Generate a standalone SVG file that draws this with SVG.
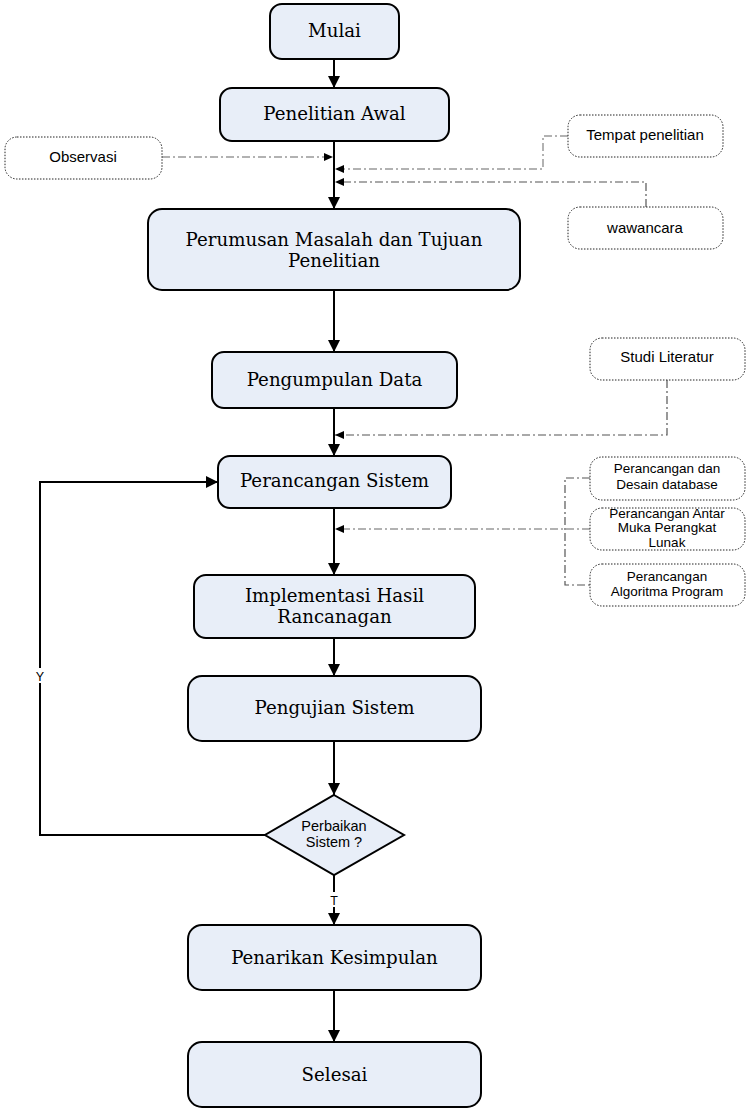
<svg xmlns="http://www.w3.org/2000/svg" width="750" height="1113" viewBox="0 0 750 1113">
<style>
.box{fill:#E8EEF8;stroke:#000;stroke-width:2}
.side{fill:#fff;stroke:#222;stroke-width:1;stroke-dasharray:1.5 1.5}
.t{font-family:"DejaVu Serif","Liberation Serif",serif;font-size:18.2px;fill:#000;text-anchor:middle}
.s{font-family:"Liberation Sans",Arial,sans-serif;font-size:15px;fill:#000;text-anchor:middle}
.m{font-family:"Liberation Sans",Arial,sans-serif;font-size:13.5px;fill:#000;text-anchor:middle}
.d{font-family:"Liberation Sans",Arial,sans-serif;font-size:14.5px;fill:#000;text-anchor:middle}
.yt{font-family:"Liberation Sans",Arial,sans-serif;font-size:12.5px;fill:#000;text-anchor:middle}
.main{stroke:#000;stroke-width:2;fill:none}
.dd{stroke:#555;stroke-width:1.2;fill:none;stroke-dasharray:8 3 2 3}
.dg{stroke:#999;stroke-width:1.5;fill:none;stroke-dasharray:8 3 2 3}
.lbl{fill:#fff}
</style>
<defs>
<marker id="ah" markerUnits="userSpaceOnUse" markerWidth="12" markerHeight="12" viewBox="0 0 12 12" refX="12" refY="6" orient="auto"><path d="M0,0 L12,6 L0,12 Z" fill="#000"/></marker>
<marker id="as" markerUnits="userSpaceOnUse" markerWidth="9" markerHeight="8" viewBox="0 0 9 8" refX="9" refY="4" orient="auto"><path d="M0,0 L9,4 L0,8 Z" fill="#000"/></marker>
</defs>
<rect width="750" height="1113" fill="#fff"/>
<g id="connectors">
<line class="main" x1="334" y1="59" x2="334" y2="88" marker-end="url(#ah)"/>
<line class="main" x1="334" y1="141" x2="334" y2="209" marker-end="url(#ah)"/>
<line class="main" x1="334" y1="290" x2="334" y2="352" marker-end="url(#ah)"/>
<line class="main" x1="334" y1="408" x2="334" y2="456" marker-end="url(#ah)"/>
<line class="main" x1="334" y1="508" x2="334" y2="575" marker-end="url(#ah)"/>
<line class="main" x1="334" y1="638" x2="334" y2="676" marker-end="url(#ah)"/>
<line class="main" x1="334" y1="741" x2="334" y2="795" marker-end="url(#ah)"/>
<line class="main" x1="334" y1="875" x2="334" y2="925" marker-end="url(#ah)"/>
<line class="main" x1="334" y1="990" x2="334" y2="1042" marker-end="url(#ah)"/>
<polyline class="main" points="265,835 40,835 40,482 218,482" marker-end="url(#ah)"/>
<rect class="lbl" x="34" y="668" width="12" height="15"/>
<text class="yt" x="40" y="681">Y</text>
<rect class="lbl" x="328" y="892" width="12" height="15"/>
<text class="yt" x="334" y="905">T</text>
<polyline class="dg" points="162,157 333,157" marker-end="url(#as)"/>
<polyline class="dg" points="568,136 543,136 543,169 335,169" marker-end="url(#as)"/>
<polyline class="dd" points="646,207 646,182 335,182" marker-end="url(#as)"/>
<polyline class="dd" points="667,380 667,435 335,435" marker-end="url(#as)"/>
<polyline class="dd" points="590,478 565,478 565,585 590,585"/>
<polyline class="dg" points="590,529 335,529" marker-end="url(#as)"/>
</g>
<g id="mulai"><rect class="box" x="270" y="4" width="129" height="55" rx="12"/><text class="t" x="334.5" y="37">Mulai</text></g>
<g id="penelitian-awal"><rect class="box" x="220" y="88" width="229" height="53" rx="12"/><text class="t" x="334.5" y="120">Penelitian Awal</text></g>
<g id="perumusan"><rect class="box" x="148" y="209" width="372" height="81" rx="14"/><text class="t" x="334" y="246">Perumusan Masalah dan Tujuan</text><text class="t" x="334" y="267">Penelitian</text></g>
<g id="pengumpulan"><rect class="box" x="212" y="352" width="245" height="56" rx="12"/><text class="t" x="334.5" y="386">Pengumpulan Data</text></g>
<g id="perancangan"><rect class="box" x="218" y="456" width="233" height="52" rx="12"/><text class="t" x="334.5" y="487">Perancangan Sistem</text></g>
<g id="implementasi"><rect class="box" x="194" y="575" width="281" height="63" rx="12"/><text class="t" x="334.5" y="602">Implementasi Hasil</text><text class="t" x="334.5" y="623">Rancanagan</text></g>
<g id="pengujian"><rect class="box" x="188" y="676" width="293" height="65" rx="14"/><text class="t" x="334.5" y="714">Pengujian Sistem</text></g>
<g id="perbaikan"><polygon class="box" points="334,795 404,835 334,875 265,835"/><text class="d" x="334" y="831">Perbaikan</text><text class="d" x="334" y="846.5">Sistem ?</text></g>
<g id="penarikan"><rect class="box" x="188" y="925" width="293" height="65" rx="14"/><text class="t" x="334.5" y="964">Penarikan Kesimpulan</text></g>
<g id="selesai"><rect class="box" x="188" y="1042" width="293" height="65" rx="14"/><text class="t" x="334.5" y="1081">Selesai</text></g>
<g id="observasi"><rect class="side" x="5" y="137" width="157" height="42" rx="12"/><text class="s" x="83" y="162">Observasi</text></g>
<g id="tempat"><rect class="side" x="568" y="115" width="155" height="42" rx="12"/><text class="s" x="645" y="140">Tempat penelitian</text></g>
<g id="wawancara"><rect class="side" x="568" y="207" width="155" height="42" rx="12"/><text class="s" x="645" y="233">wawancara</text></g>
<g id="studi"><rect class="side" x="590" y="338" width="155" height="42" rx="12"/><text class="s" x="667" y="362">Studi Literatur</text></g>
<g id="desain-db"><rect class="side" x="590" y="457" width="155" height="43" rx="12"/><text class="m" x="667" y="473">Perancangan dan</text><text class="m" x="667" y="488.5">Desain database</text></g>
<g id="antar-muka"><rect class="side" x="590" y="508" width="155" height="42" rx="12"/><text class="m" x="667" y="517.5">Perancangan Antar</text><text class="m" x="667" y="532">Muka Perangkat</text><text class="m" x="667" y="546.5">Lunak</text></g>
<g id="algoritma"><rect class="side" x="590" y="564" width="155" height="42" rx="12"/><text class="m" x="667" y="580.5">Perancangan</text><text class="m" x="667" y="596">Algoritma Program</text></g>
</svg>
